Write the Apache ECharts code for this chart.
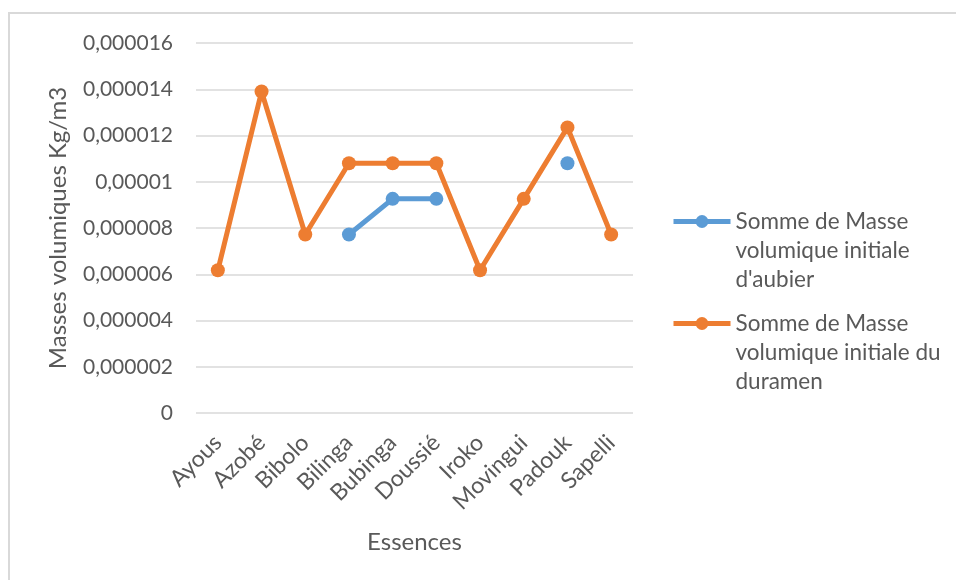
<!DOCTYPE html>
<html>
<head>
<meta charset="utf-8">
<script src="https://cdn.jsdelivr.net/npm/echarts@6/dist/echarts.min.js"></script>
<style>
  html, body { margin: 0; padding: 0; background: #ffffff; }
  #chart { width: 956px; height: 580px; }
</style>
</head>
<body>
<div id="chart"></div>
<script>
// Essences de bois
const categories = ['Ayous', 'Azobé', 'Bibolo', 'Bilinga', 'Bubinga', 'Doussié', 'Iroko', 'Movingui', 'Padouk', 'Sapelli'];

// Somme de Masse volumique initiale d'aubier (Kg/m3)
const aubier = [null, null, null, 0.00000772, 0.00000926, 0.00000926, null, null, 0.0000108, null];

// Somme de Masse volumique initiale du duramen (Kg/m3)
const duramen = [0.00000617, 0.0000139, 0.00000772, 0.0000108, 0.0000108, 0.0000108, 0.00000617, 0.00000926, 0.00001235, 0.00000772];

const seriesNames = [
  "Somme de Masse volumique initiale d'aubier",
  'Somme de Masse volumique initiale du duramen'
];
const legendLines = [
  ['Somme de Masse', 'volumique initiale', "d'aubier"],
  ['Somme de Masse', 'volumique initiale du', 'duramen']
];

// Y tick labels, written with a decimal comma
const yTickLabels = ['0', '0,000002', '0,000004', '0,000006', '0,000008', '0,00001', '0,000012', '0,000014', '0,000016'];

const FONT = 'Lato, "Open Sans", sans-serif';
const TEXT = '#595959';
const BLUE = '#5B9BD5';
const ORANGE = '#ED7D31';

const chart = echarts.init(document.getElementById('chart'));

// One legend per series so that each wrapped entry can be placed on its own;
// two leading blank lines put the first text line level with the icon.
function legendFor(i, top) {
  return {
    show: true,
    data: [seriesNames[i]],
    orient: 'vertical',
    left: 671,
    top: top,
    padding: 0,
    itemWidth: 57,
    itemHeight: 16,
    itemGap: 0,
    lineStyle: { width: 5 },
    formatter: () => '\n\n' + legendLines[i].join('\n'),
    textStyle: {
      fontFamily: FONT,
      fontSize: 22.5,
      color: TEXT,
      lineHeight: 29
    }
  };
}

chart.setOption({
  animation: false,
  backgroundColor: '#ffffff',
  textStyle: { fontFamily: FONT },
  graphic: [{
    type: 'rect',
    shape: { x: 9, y: 13, width: 960, height: 600 },
    style: { fill: 'none', stroke: '#D9D9D9', lineWidth: 2 },
    silent: true,
    z: -1
  }],
  grid: { left: 196, right: 323, top: 43, bottom: 167, containLabel: false },
  legend: [legendFor(0, 149), legendFor(1, 251)],
  xAxis: {
    type: 'category',
    data: categories,
    boundaryGap: true,
    name: 'Essences',
    nameLocation: 'middle',
    nameGap: 117,
    nameMoveOverlap: false,
    nameTextStyle: { fontFamily: FONT, fontSize: 24, color: TEXT, verticalAlign: 'top' },
    axisLine: { show: false },
    axisTick: { show: false },
    axisLabel: {
      rotate: 45,
      interval: 0,
      margin: 26,
      fontFamily: FONT,
      fontSize: 23,
      color: TEXT
    },
    splitLine: { show: false }
  },
  yAxis: {
    type: 'value',
    min: 0,
    max: 0.000016,
    interval: 0.000002,
    name: 'Masses volumiques Kg/m3',
    nameLocation: 'middle',
    nameGap: 126,
    nameMoveOverlap: false,
    nameTextStyle: { fontFamily: FONT, fontSize: 24, color: TEXT },
    axisLine: { show: false },
    axisTick: { show: false },
    axisLabel: {
      margin: 23,
      fontFamily: FONT,
      fontSize: 21,
      color: TEXT,
      formatter: (v) => yTickLabels[Math.round(v / 0.000002)]
    },
    splitLine: { lineStyle: { color: '#D9D9D9', width: 1.5 } }
  },
  series: [
    {
      name: seriesNames[0],
      type: 'line',
      data: aubier,
      connectNulls: false,
      symbol: 'circle',
      symbolSize: 14,
      showAllSymbol: true,
      itemStyle: { color: BLUE },
      lineStyle: { color: BLUE, width: 5 },
      z: 2
    },
    {
      name: seriesNames[1],
      type: 'line',
      data: duramen,
      symbol: 'circle',
      symbolSize: 14,
      showAllSymbol: true,
      itemStyle: { color: ORANGE },
      lineStyle: { color: ORANGE, width: 5 },
      z: 3
    }
  ]
});
</script>
</body>
</html>
